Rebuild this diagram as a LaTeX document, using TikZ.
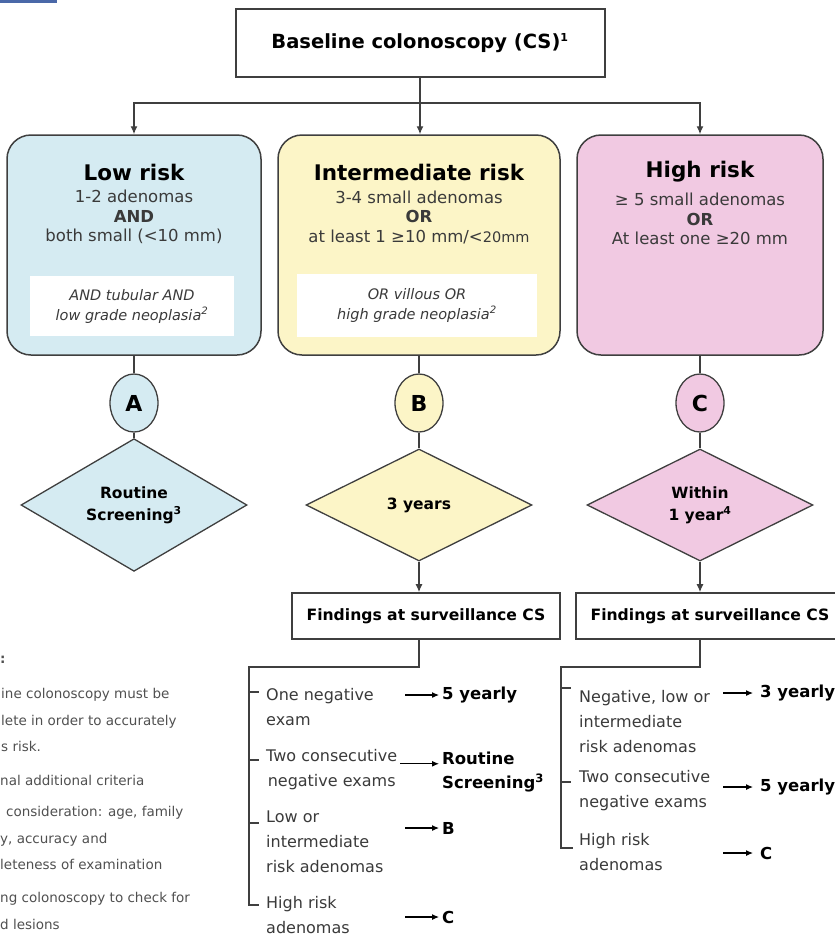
\documentclass[tikz,border=0pt]{standalone}
\usepackage{fontspec}
\setmainfont{DejaVu Sans}
\usepackage{xcolor}
\definecolor{RiskLow}  {HTML}{D5EBF2}
\definecolor{RiskMid}  {HTML}{FCF5C7}
\definecolor{RiskHigh} {HTML}{F1C9E2}
\definecolor{FlowLine} {HTML}{3F3F3F}
\definecolor{FlowText} {HTML}{3A3A3A}
\definecolor{NoteText} {HTML}{505050}
\definecolor{TabBlue}  {HTML}{4A68A8}
\usetikzlibrary{arrows.meta,positioning,shapes.geometric}
\newcommand{\fsize}[2]{\fontsize{#1}{#2}\selectfont}

\begin{document}
\begin{tikzpicture}[x=1pt,y=-1pt,
  flow/.style={draw=FlowLine,line width=1.3pt},
  arr/.style={flow,-{Latex[length=8pt,width=7pt]}},
  arrsmall/.style={draw=black,line width=1.1pt,-{Latex[length=7pt,width=6pt]}},
  riskbox/.style={draw=FlowLine,line width=1.5pt,rounded corners=24pt,inner sep=0pt},
  risktitle/.style={font=\bfseries\fsize{21.5}{24},text=black,inner sep=0pt},
  riskbody/.style={font=\fsize{16.5}{19.5},text=FlowText,align=center,inner sep=0pt},
  extrabox/.style={fill=white,inner sep=0pt,font=\itshape\fsize{14.5}{20},
    text=FlowText,align=center},
  letter/.style={ellipse,draw=FlowLine,line width=1.3pt,minimum width=48pt,
    minimum height=58pt,inner sep=0pt,font=\bfseries\fsize{22}{24}},
  interval/.style={diamond,draw=FlowLine,line width=1.3pt,minimum width=226pt,
    minimum height=112pt,inner sep=0pt,font=\bfseries\fsize{15.5}{22},align=center},
  findbox/.style={draw=FlowLine,line width=1.6pt,minimum width=268pt,
    minimum height=46pt,inner sep=0pt,font=\bfseries\fsize{15.6}{18}},
  item/.style={anchor=west,inner sep=0pt,font=\fsize{16}{25},text=FlowText},
  result/.style={anchor=west,inner sep=0pt,font=\bfseries\fsize{16.5}{24},align=left},
  note/.style={anchor=west,inner sep=0pt,font=\fsize{13.5}{26.5},text=NoteText,align=left}]
  \useasboundingbox (0,0) rectangle (835,940);
  \clip (0,0) rectangle (835,940);
  \fill[TabBlue] (0,0) rectangle (57,3);
  % Baseline colonoscopy
  \node[draw=FlowLine,line width=2pt,minimum width=369pt,minimum height=68pt,
    font=\bfseries\fsize{19.5}{24}] (base) at (420,43)
    {Baseline colonoscopy (CS)\textsuperscript{\fsize{11}{12}1}};
  \coordinate (split) at (420,103);
  % Risk groups
  \node[riskbox,fill=RiskLow,minimum width=254pt,minimum height=220pt]
    (low) at (134,245) {};
  \node[riskbox,fill=RiskMid,minimum width=282pt,minimum height=220pt]
    (mid) at (419,245) {};
  \node[riskbox,fill=RiskHigh,minimum width=246pt,minimum height=220pt]
    (high) at (700,245) {};
  \draw[flow] (base) -- (split);
  \draw[arr] (split) -| (low);
  \draw[arr] (split) -- (split |- mid.north);
  \draw[arr] (split) -| (high);
  % Low risk
  \node[risktitle] (lowT) at (134,172) {Low risk};
  \node[riskbody] (lowB) at (134,217)
    {1-2 adenomas\\{\bfseries AND}\\both small (<10 mm)};
  \node[extrabox,minimum width=204pt,minimum height=60pt] (lowX) at (132,306)
    {AND tubular AND\\low grade neoplasia\textsuperscript{2}};
  % Intermediate risk
  \node[risktitle] (midT) at (419,172) {Intermediate risk};
  \node[riskbody] (midB) at (419,217)
    {3-4 small adenomas\\{\bfseries OR}\\at least 1 ≥10 mm/<{\fsize{14.5}{19.5}20mm}};
  \node[extrabox,minimum width=240pt,minimum height=63pt] (midX) at (417,305)
    {OR villous OR\\high grade neoplasia\textsuperscript{2}};
  % High risk
  \node[risktitle] (highT) at (700,172) {High risk};
  \node[riskbody] (highB) at (700,219)
    {≥ 5 small adenomas\\{\bfseries OR}\\At least one ≥20 mm};
  % Groups and intervals
  \node[letter,fill=RiskLow]  (cA) at (134,403) {A};
  \node[letter,fill=RiskMid]  (cB) at (419,403) {B};
  \node[letter,fill=RiskHigh] (cC) at (700,403) {C};
  \node[interval,fill=RiskLow]  (dA) at (134,505) {Routine\\Screening\textsuperscript{3}};
  \node[interval,fill=RiskMid]  (dB) at (419,505) {3 years};
  \node[interval,fill=RiskHigh] (dC) at (700,505) {Within\\1 year\textsuperscript{4}};
  \draw[flow] (low) -- (cA);
  \draw[flow] (mid) -- (cB);
  \draw[flow] (high) -- (cC);
  \draw[flow] (cA) -- (dA);
  \draw[flow] (cB) -- (dB);
  \draw[flow] (cC) -- (dC);
  % Surveillance findings
  \node[findbox] (fB) at (426,616) {Findings at surveillance CS};
  \node[findbox] (fC) at (710,616) {Findings at surveillance CS};
  \draw[arr] (dB) -- (dB |- fB.north);
  \draw[arr] (dC) -- (dC |- fC.north);
  % Intermediate follow-up
  \coordinate (jB) at (419,667);
  \draw[flow] (dB |- fB.south) -- (jB) -| (249,905) -- (259,905);
  \draw[flow] (249,692) -- (259,692);
  \draw[flow] (249,760) -- (259,760);
  \draw[flow] (249,823) -- (259,823);
  \node[item,align=left] (iB1) at (266,707) {One negative\\exam};
  \node[item,align=center] (iB2) at (266,770) {Two consecutive\\negative exams};
  \node[item,align=left] (iB3) at (266,842) {Low or\\intermediate\\risk adenomas};
  \node[item,align=left] (iB4) at (266,915) {High risk\\adenomas};
  \node[result] (rB1) at (442,695) {5 yearly};
  \node[result] (rB2) at (442,772) {Routine\\Screening\textsuperscript{3}};
  \node[result] (rB3) at (442,828) {B};
  \node[result] (rB4) at (442,917) {C};
  \draw[arrsmall] ([xshift=-37pt]rB1.west) -- ([xshift=-3pt]rB1.west);
  \draw[arrsmall] ([xshift=-42pt,yshift=-12pt]rB2.north west)
    -- ([xshift=-3pt,yshift=-12pt]rB2.north west);
  \draw[arrsmall] ([xshift=-37pt]rB3.west) -- ([xshift=-3pt]rB3.west);
  \draw[arrsmall] ([xshift=-37pt]rB4.west) -- ([xshift=-3pt]rB4.west);
  % High risk follow-up
  \coordinate (jC) at (700,667);
  \draw[flow] (dC |- fC.south) -- (jC) -| (561,848) -- (573,848);
  \draw[flow] (561,688) -- (571,688);
  \draw[flow] (561,782) -- (571,782);
  \node[item,align=left] (iC1) at (579,722)
    {Negative, low or\\intermediate\\risk adenomas};
  \node[item,align=left] (iC2) at (579,791) {Two consecutive\\negative exams};
  \node[item,align=left] (iC3) at (579,852) {High risk\\adenomas};
  \node[result] (rC1) at (760,693) {3 yearly};
  \node[result] (rC2) at (760,787) {5 yearly};
  \node[result] (rC3) at (760,853) {C};
  \draw[arrsmall] ([xshift=-37pt]rC1.west) -- ([xshift=-7pt]rC1.west);
  \draw[arrsmall] ([xshift=-37pt]rC2.west) -- ([xshift=-7pt]rC2.west);
  \draw[arrsmall] ([xshift=-37pt]rC3.west) -- ([xshift=-7pt]rC3.west);
  % Notes (cut at the left edge)
  \node[note,font=\bfseries\fsize{13.5}{26.5}] (n0) at (0,660) {:};
  \node[note] (n1) at (1,720)
    {ine colonoscopy must be\\lete in order to accurately\\s risk.};
  \node[note] (n2) at (0,780) {nal additional criteria};
  \node[note] (n3) at (0,838)
    {\hspace*{6pt}consideration: age, family\\y, accuracy and\\leteness of examination};
  \node[note] (n4) at (0,911) {ng colonoscopy to check for\\d lesions};
\end{tikzpicture}
\end{document}
